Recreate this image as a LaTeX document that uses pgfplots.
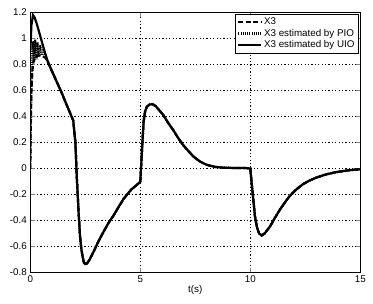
\documentclass[border=0pt]{standalone}
\usepackage{fontspec}
\setmainfont{Liberation Sans}
\usepackage{pgfplots}
\pgfplotsset{compat=1.18}
\usepackage{pgfplotstable}

\pgfplotstableread{
t v
0 0
0.02 0.35
0.05 0.6
0.1 0.76
0.15 0.83
0.25 0.86
0.4 0.87
0.55 0.865
0.7 0.85
0.8 0.82
1.1 0.705
1.41 0.589
1.7 0.47
1.95 0.37
2.05 0.2
2.11 -0.057
2.2 -0.35
2.26 -0.52
2.32 -0.62
2.38 -0.68
2.44 -0.725
2.5 -0.735
2.58 -0.73
2.7 -0.7
2.86 -0.646
3.1 -0.56
3.32 -0.49
3.55 -0.42
3.77 -0.365
4.0 -0.3
4.23 -0.236
4.45 -0.19
4.6 -0.16
4.78 -0.135
4.93 -0.113
5.0 -0.1
5.08 0.15
5.15 0.36
5.22 0.44
5.3 0.475
5.42 0.492
5.55 0.495
5.7 0.48
5.85 0.45
6.05 0.41
6.27 0.35
6.5 0.295
6.72 0.235
6.95 0.18
7.18 0.135
7.41 0.093
7.7 0.055
8.02 0.028
8.4 0.012
8.77 0.006
9.3 0.004
9.84 0.003
10.0 0.0
10.06 -0.108
10.21 -0.365
10.3 -0.45
10.4 -0.5
10.52 -0.515
10.65 -0.5
10.9 -0.445
11.1 -0.385
11.35 -0.315
11.6 -0.255
11.8 -0.21
12.1 -0.16
12.4 -0.12
12.7 -0.092
13.0 -0.07
13.45 -0.045
13.9 -0.028
14.45 -0.014
15 -0.006
}\xthree

\pgfplotstableread{
t v
0 0
0.04 0.5
0.08 0.85
0.12 0.98
0.17 0.82
0.22 0.99
0.28 0.84
0.33 0.97
0.39 0.86
0.45 0.95
0.52 0.87
0.6 0.92
0.68 0.86
0.8 0.82
1.1 0.705
1.41 0.589
1.7 0.47
1.95 0.37
2.05 0.2
2.11 -0.057
2.2 -0.35
2.26 -0.52
2.32 -0.62
2.38 -0.68
2.44 -0.725
2.5 -0.735
2.58 -0.73
2.7 -0.7
2.86 -0.646
3.1 -0.56
3.32 -0.49
3.55 -0.42
3.77 -0.365
4.0 -0.3
4.23 -0.236
4.45 -0.19
4.6 -0.16
4.78 -0.135
4.93 -0.113
5.0 -0.1
5.08 0.15
5.15 0.36
5.22 0.44
5.3 0.475
5.42 0.492
5.55 0.495
5.7 0.48
5.85 0.45
6.05 0.41
6.27 0.35
6.5 0.295
6.72 0.235
6.95 0.18
7.18 0.135
7.41 0.093
7.7 0.055
8.02 0.028
8.4 0.012
8.77 0.006
9.3 0.004
9.84 0.003
10.0 0.0
10.06 -0.108
10.21 -0.365
10.3 -0.45
10.4 -0.5
10.52 -0.515
10.65 -0.5
10.9 -0.445
11.1 -0.385
11.35 -0.315
11.6 -0.255
11.8 -0.21
12.1 -0.16
12.4 -0.12
12.7 -0.092
13.0 -0.07
13.45 -0.045
13.9 -0.028
14.45 -0.014
15 -0.006
}\pio

\pgfplotstableread{
t v
0 0.9
0.05 1.1
0.12 1.18
0.2 1.16
0.3 1.11
0.4 1.05
0.5 0.99
0.65 0.9
0.8 0.82
1.1 0.705
1.41 0.589
1.7 0.47
1.95 0.37
2.05 0.2
2.11 -0.057
2.2 -0.35
2.26 -0.52
2.32 -0.62
2.38 -0.68
2.44 -0.725
2.5 -0.735
2.58 -0.73
2.7 -0.7
2.86 -0.646
3.1 -0.56
3.32 -0.49
3.55 -0.42
3.77 -0.365
4.0 -0.3
4.23 -0.236
4.45 -0.19
4.6 -0.16
4.78 -0.135
4.93 -0.113
5.0 -0.1
5.08 0.15
5.15 0.36
5.22 0.44
5.3 0.475
5.42 0.492
5.55 0.495
5.7 0.48
5.85 0.45
6.05 0.41
6.27 0.35
6.5 0.295
6.72 0.235
6.95 0.18
7.18 0.135
7.41 0.093
7.7 0.055
8.02 0.028
8.4 0.012
8.77 0.006
9.3 0.004
9.84 0.003
10.0 0.0
10.06 -0.108
10.21 -0.365
10.3 -0.45
10.4 -0.5
10.52 -0.515
10.65 -0.5
10.9 -0.445
11.1 -0.385
11.35 -0.315
11.6 -0.255
11.8 -0.21
12.1 -0.16
12.4 -0.12
12.7 -0.092
13.0 -0.07
13.45 -0.045
13.9 -0.028
14.45 -0.014
15 -0.006
}\uio

\begin{document}
\begin{tikzpicture}
\begin{axis}[
  scale only axis,
  width=330bp, height=260bp,
  xmin=0, xmax=15, ymin=-0.8, ymax=1.2,
  xtick={0,5,10,15},
  ytick={-0.8,-0.6,-0.4,-0.2,0,0.2,0.4,0.6,0.8,1,1.2},
  grid=major,
  major grid style={black, line width=0.6pt, dash pattern=on 1.2pt off 2.2pt},
  tick align=inside,
  axis line style={black, line width=0.7pt},
  /pgf/number format/assume math mode=true,
  tick label style={font=\fontsize{9.8bp}{11bp}\selectfont},
  label style={font=\fontsize{9.8bp}{11bp}\selectfont},
  xlabel={t(s)},
  xlabel style={yshift=4bp},
  legend cell align=left,
  legend style={at={(rel axis cs:0.994,0.994)}, anchor=north east,
    draw=black, line width=0.7pt, inner sep=1.5pt, row sep=-1pt,
    font=\fontsize{9.8bp}{11bp}\selectfont},
  legend image code/.code={\draw[#1] (0cm,0cm) -- (0.8cm,0cm);},
]
\addplot[black, line width=2.2bp, dash pattern=on 5bp off 2.5bp] table[x=t,y=v] {\xthree};
\addlegendentry{X3}
\addplot[black, line width=2.2bp, dash pattern=on 1bp off 1.2bp] table[x=t,y=v] {\pio};
\addlegendentry{X3 estimated by PIO}
\addplot[black, line width=2.2bp] table[x=t,y=v] {\uio};
\addlegendentry{X3 estimated by UIO}
\end{axis}
\pgfresetboundingbox
\path[use as bounding box] (-30.3bp,-31.5bp) rectangle (342.7bp,272.5bp);
\end{tikzpicture}
\end{document}
